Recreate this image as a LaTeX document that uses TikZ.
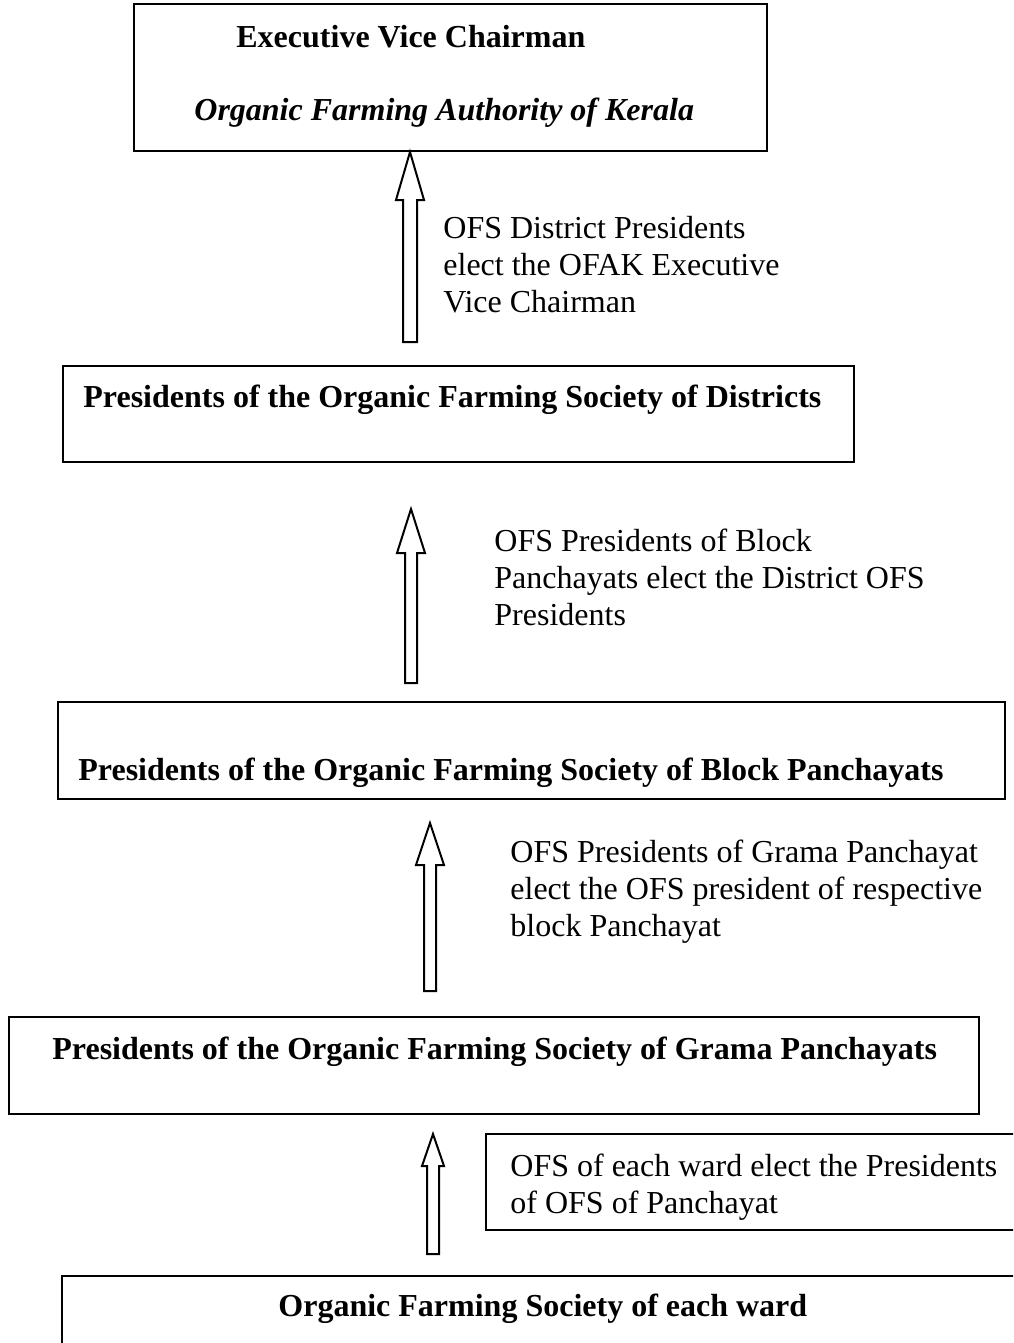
\documentclass[tikz,border=0pt]{standalone}
\usepackage{fontspec}
\setmainfont{Liberation Serif}
\usetikzlibrary{calc,fit}

\begin{document}
\begin{tikzpicture}[x=0.5pt,y=-0.5pt,
  box/.style={draw,line width=1pt,inner sep=0pt},
  hollow/.style={draw,line width=1pt,fill=white,line join=miter},
  lbl/.style={font=\fontsize{16}{18.5}\selectfont,inner sep=0pt,align=left,anchor=base west},
  head/.style={lbl,font=\fontsize{16}{18.5}\selectfont\bfseries}]
  \useasboundingbox (0,0) rectangle (1013,1343);
  \clip (0,0) rectangle (1013,1343);

  \node[box, fit={(134,4) (767,151)}] (chair) {};
  \node[box, fit={(63,366) (854,462)}] (dist) {};
  \node[box, fit={(58,702) (1005,799)}] (block) {};
  \node[box, fit={(9,1017) (979,1114)}] (grama) {};
  \node[box, fit={(486,1134) (1030,1230)}] (note) {};
  \node[box, fit={(62,1276) (1030,1380)}] (ward) {};

  \node[head] (chairT) at (236,48) {Executive Vice Chairman};
  \node[head,font=\fontsize{16}{18.5}\selectfont\bfseries\itshape] (ofak) at (194,120) {Organic Farming Authority of Kerala};
  \node[head] (distT) at (83,407) {Presidents of the Organic Farming Society of Districts};
  \node[head] (blockT) at (78,780) {Presidents of the Organic Farming Society of Block Panchayats};
  \node[head] (gramaT) at (52,1059) {Presidents of the Organic Farming Society of Grama Panchayats};
  \node[head] (wardT) at (278,1316) {Organic Farming Society of each ward};

  % base of a wrapped label is its last line
  \node[lbl] (e1) at (443,312) {OFS District Presidents\\elect the OFAK Executive\\Vice Chairman};
  \node[lbl] (e2) at (494,625) {OFS Presidents of Block\\Panchayats elect the District OFS\\Presidents};
  \node[lbl] (e3) at (510,936) {OFS Presidents of Grama Panchayat\\elect the OFS president of respective\\block Panchayat};
  \node[lbl] (e4) at (510,1213) {OFS of each ward elect the Presidents\\of OFS of Panchayat};

  % hollow arrows, tail up to tip
  \coordinate (t1) at (410,342);
  \draw[hollow] (t1 |- chair.south) -- ++(14,48) -- ++(-7,0) -- ($(t1)+(7,0)$) -- ($(t1)+(-7,0)$) -- ($(t1 |- chair.south)+(-7,48)$) -- ++(-7,0) -- cycle;
  \coordinate (h2) at (411,509);
  \coordinate (t2) at (411,683);
  \draw[hollow] (h2) -- ++(14,44) -- ++(-8,0) -- ($(t2)+(6,0)$) -- ($(t2)+(-6,0)$) -- ($(h2)+(-6,44)$) -- ++(-8,0) -- cycle;
  \coordinate (h3) at (430,823);
  \coordinate (t3) at (430,991);
  \draw[hollow] (h3) -- ++(14,42) -- ++(-8,0) -- ($(t3)+(6,0)$) -- ($(t3)+(-6,0)$) -- ($(h3)+(-6,42)$) -- ++(-8,0) -- cycle;
  \coordinate (h4) at (433,1134);
  \coordinate (t4) at (433,1254);
  \draw[hollow] (h4) -- ++(11,32) -- ++(-5,0) -- ($(t4)+(6,0)$) -- ($(t4)+(-6,0)$) -- ($(h4)+(-6,32)$) -- ++(-5,0) -- cycle;
\end{tikzpicture}
\end{document}
